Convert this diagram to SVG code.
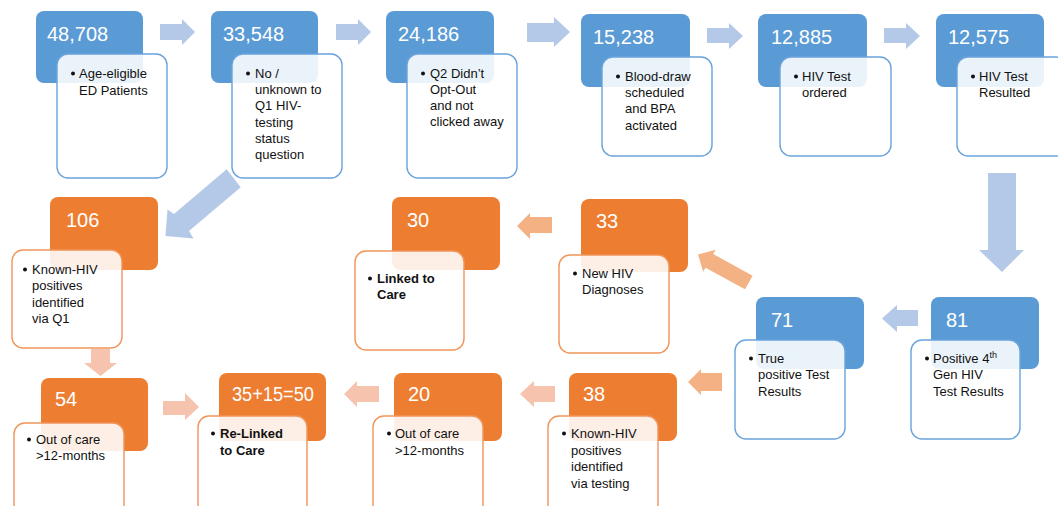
<svg xmlns="http://www.w3.org/2000/svg" width="1058" height="506" viewBox="0 0 1058 506">
<style>
.bb{fill:#5b9bd5}
.ob{fill:#ed7d31}
.bf{fill:#ffffff;fill-opacity:0.88;stroke:#6aa3db;stroke-width:1.4}
.of{fill:#ffffff;fill-opacity:0.88;stroke:#f0945a;stroke-width:1.4}
.num{font-family:"Liberation Sans",Arial,sans-serif;font-size:20px;fill:#ffffff}
.t{font-family:"Liberation Sans",Arial,sans-serif;font-size:13px;fill:#111111}
.tb{font-family:"Liberation Sans",Arial,sans-serif;font-size:13px;fill:#111111;font-weight:bold}
.dot{fill:#111111}
.ab{fill:#b4c9e7}
.ao{fill:#f4b183}
.ap{fill:#f5c3ae}
</style>
<rect width="1058" height="506" fill="#ffffff"/>
<g id="connectors">
<polygon class="ab" points="160,24 182,24 182,19 195,32 182,45 182,40 160,40"/>
<polygon class="ab" points="336,24 358,24 358,19 371,32 358,45 358,40 336,40"/>
<polygon class="ab" points="527,23 554,23 554,17 570,32 554,47 554,42 527,42"/>
<polygon class="ab" points="707,28 729,28 729,23 743,36 729,49 729,43 707,43"/>
<polygon class="ab" points="884,28 906,28 906,23 920,36 906,49 906,43 884,43"/>
<polygon class="ab" points="988,173 1016,173 1016,250 1024,250 1002,272 979,250 988,250"/>
<polygon class="ab" points="226.7,169.3 240.7,187.3 189,231 193.5,238.5 165.5,236 167.5,209.5 174,214"/>
<polygon class="ab" points="918,310 897,310 897,305 882,318.5 897,332 897,326 918,326"/>
<polygon class="ao" points="552,217 530,217 530,213 517,226 530,239 530,233 552,233"/>
<polygon class="ao" points="752.6,275.7 713.2,254 715.5,249.8 698,254.5 703.2,271.8 705.5,267.7 745,289.3"/>
<polygon class="ao" points="722,373 701,373 701,369 688,382 701,395 701,391 722,391"/>
<polygon class="ap" points="555,386 534,386 534,381 520,394 534,407 534,402 555,402"/>
<polygon class="ap" points="379,386 357,386 357,381 344,394 357,407 357,402 379,402"/>
<polygon class="ap" points="163,401 185,401 185,393 199,407 185,420 185,415 163,415"/>
<polygon class="ap" points="91,349 110,349 110,363 117,363 100.5,376 84,363 91,363"/>
</g>
<g id="n48708">
<rect class="bb" x="36" y="11" width="107" height="72" rx="8"/>
<text class="num" x="47" y="41">48,708</text>
<rect class="bf" x="57" y="54" width="110" height="124" rx="11"/>
<circle class="dot" cx="73" cy="73.5" r="2"/>
<text class="t" x="79" y="78">Age-eligible</text>
<text class="t" x="79" y="95">ED Patients</text>
</g>
<g id="n33548">
<rect class="bb" x="211" y="11" width="107" height="72" rx="8"/>
<text class="num" x="223" y="41">33,548</text>
<rect class="bf" x="232" y="54" width="110" height="124" rx="11"/>
<circle class="dot" cx="248" cy="73.5" r="2"/>
<text class="t" x="255" y="78">No /</text>
<text class="t" x="255" y="94">unknown to</text>
<text class="t" x="255" y="110">Q1 HIV-</text>
<text class="t" x="255" y="127">testing</text>
<text class="t" x="255" y="143">status</text>
<text class="t" x="255" y="159">question</text>
</g>
<g id="n24186">
<rect class="bb" x="386" y="11" width="108" height="72" rx="8"/>
<text class="num" x="398" y="41">24,186</text>
<rect class="bf" x="407" y="54" width="110" height="124" rx="11"/>
<circle class="dot" cx="423" cy="73.5" r="2"/>
<text class="t" x="430" y="78">Q2 Didn’t</text>
<text class="t" x="430" y="94">Opt-Out</text>
<text class="t" x="430" y="110">and not</text>
<text class="t" x="430" y="126">clicked away</text>
</g>
<g id="n15238">
<rect class="bb" x="581" y="14" width="109" height="73" rx="8"/>
<text class="num" x="593" y="44">15,238</text>
<rect class="bf" x="602" y="57" width="110" height="99" rx="11"/>
<circle class="dot" cx="618" cy="76.5" r="2"/>
<text class="t" x="625" y="81">Blood-draw</text>
<text class="t" x="625" y="97">scheduled</text>
<text class="t" x="625" y="113">and BPA</text>
<text class="t" x="625" y="130">activated</text>
</g>
<g id="n12885">
<rect class="bb" x="758" y="14" width="109" height="73" rx="8"/>
<text class="num" x="771" y="44">12,885</text>
<rect class="bf" x="780" y="57" width="111" height="99" rx="11"/>
<circle class="dot" cx="796" cy="76.5" r="2"/>
<text class="t" x="802" y="81">HIV Test</text>
<text class="t" x="802" y="97">ordered</text>
</g>
<g id="n12575">
<rect class="bb" x="936" y="14" width="108" height="73" rx="8"/>
<text class="num" x="948" y="44">12,575</text>
<rect class="bf" x="957" y="57" width="110" height="99" rx="11"/>
<circle class="dot" cx="973" cy="76.5" r="2"/>
<text class="t" x="979" y="81">HIV Test</text>
<text class="t" x="979" y="97">Resulted</text>
</g>
<g id="n81">
<rect class="bb" x="931" y="297" width="108" height="72" rx="8"/>
<text class="num" x="946" y="327">81</text>
<rect class="bf" x="911" y="340" width="109" height="99" rx="11"/>
<circle class="dot" cx="927" cy="358.5" r="2"/>
<text class="t" x="933" y="363">Positive 4<tspan font-size="9" dy="-5">th</tspan></text>
<text class="t" x="933" y="379">Gen HIV</text>
<text class="t" x="933" y="396">Test Results</text>
</g>
<g id="n71">
<rect class="bb" x="756" y="297" width="108" height="72" rx="8"/>
<text class="num" x="771" y="327">71</text>
<rect class="bf" x="735" y="340" width="110" height="99" rx="11"/>
<circle class="dot" cx="751" cy="358.5" r="2"/>
<text class="t" x="758" y="363">True</text>
<text class="t" x="758" y="379">positive Test</text>
<text class="t" x="758" y="396">Results</text>
</g>
<g id="n106">
<rect class="ob" x="50" y="197" width="108" height="73" rx="8"/>
<text class="num" x="66" y="227">106</text>
<rect class="of" x="12" y="250" width="110" height="98" rx="11"/>
<circle class="dot" cx="25" cy="269.5" r="2"/>
<text class="t" x="32" y="274">Known-HIV</text>
<text class="t" x="32" y="290">positives</text>
<text class="t" x="32" y="307">identified</text>
<text class="t" x="32" y="323">via Q1</text>
</g>
<g id="n30">
<rect class="ob" x="392" y="197" width="108" height="73" rx="8"/>
<text class="num" x="407" y="227">30</text>
<rect class="of" x="355" y="251" width="109" height="99" rx="11"/>
<circle class="dot" cx="370" cy="278.5" r="2"/>
<text class="tb" x="377" y="283">Linked to</text>
<text class="tb" x="377" y="299">Care</text>
</g>
<g id="n33">
<rect class="ob" x="581" y="199" width="107" height="73" rx="8"/>
<text class="num" x="596" y="228">33</text>
<rect class="of" x="559" y="255" width="110" height="98" rx="11"/>
<circle class="dot" cx="575" cy="273.5" r="2"/>
<text class="t" x="582" y="278">New HIV</text>
<text class="t" x="582" y="294">Diagnoses</text>
</g>
<g id="n54">
<rect class="ob" x="41" y="378" width="107" height="73" rx="8"/>
<text class="num" x="55" y="406">54</text>
<rect class="of" x="14" y="423" width="110" height="95" rx="11"/>
<circle class="dot" cx="29" cy="439.5" r="2"/>
<text class="t" x="36" y="444">Out of care</text>
<text class="t" x="36" y="460">&gt;12-months</text>
</g>
<g id="n50">
<rect class="ob" x="219" y="373" width="107" height="68" rx="8"/>
<text class="num" x="232" y="401" textLength="82" lengthAdjust="spacingAndGlyphs">35+15=50</text>
<rect class="of" x="198" y="416" width="109" height="100" rx="11"/>
<circle class="dot" cx="213" cy="433.5" r="2"/>
<text class="tb" x="220" y="438">Re-Linked</text>
<text class="tb" x="220" y="455">to Care</text>
</g>
<g id="n20">
<rect class="ob" x="394" y="373" width="108" height="68" rx="8"/>
<text class="num" x="408" y="401">20</text>
<rect class="of" x="373" y="416" width="110" height="100" rx="11"/>
<circle class="dot" cx="389" cy="433.5" r="2"/>
<text class="t" x="395" y="438">Out of care</text>
<text class="t" x="395" y="455">&gt;12-months</text>
</g>
<g id="n38">
<rect class="ob" x="569" y="373" width="108" height="68" rx="8"/>
<text class="num" x="583" y="401">38</text>
<rect class="of" x="548" y="416" width="110" height="100" rx="11"/>
<circle class="dot" cx="564" cy="433.5" r="2"/>
<text class="t" x="571" y="438">Known-HIV</text>
<text class="t" x="571" y="455">positives</text>
<text class="t" x="571" y="471">identified</text>
<text class="t" x="571" y="488">via testing</text>
</g>
</svg>
